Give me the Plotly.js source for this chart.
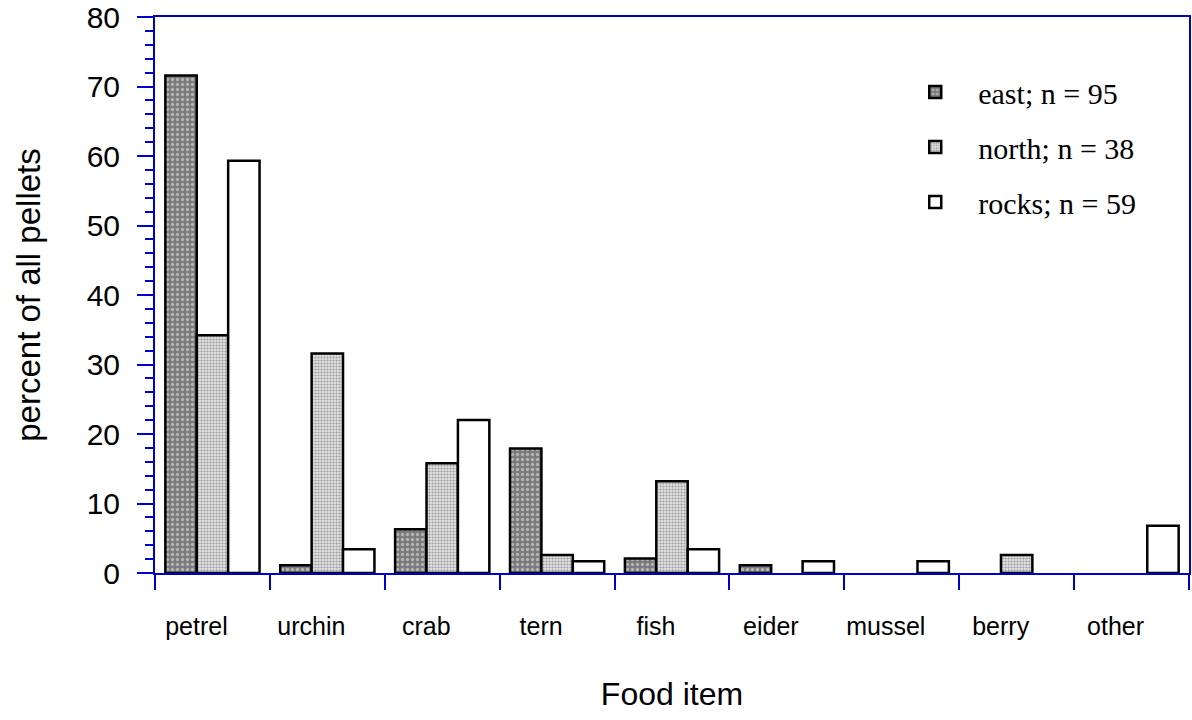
<!DOCTYPE html>
<html>
<head>
<meta charset="utf-8">
<script src="https://cdn.plot.ly/plotly-3.0.1.min.js"></script>
<style>html,body{margin:0;padding:0;background:#fff;}#chart{width:1192px;height:720px;}</style>
</head>
<body>
<div id="chart"></div>
<script>
const categories = ["petrel", "urchin", "crab", "tern", "fish", "eider", "mussel", "berry", "other"];
const eastValues  = [71.6, 1.1, 6.3, 17.9, 2.1, 1.1, null, null, null];
const northValues = [34.2, 31.6, 15.8, 2.6, 13.2, null, null, 2.6, null];
const rocksValues = [59.3, 3.4, 22.0, 1.7, 3.4, 1.7, 1.7, null, 6.8];
const seriesNames = ["east; n = 95", "north; n = 38", "rocks; n = 59"];
const yTicks = [0, 10, 20, 30, 40, 50, 60, 70, 80];

const blue = "#0000cc";
const outline = {color: "#000000", width: 2.5};

const traces = [
  {type: "bar", name: seriesNames[0], x: categories, y: eastValues, legendgroup: "a",
   marker: {color: "#808080", line: outline,
            pattern: {shape: ".", bgcolor: "#7a7a7a", fgcolor: "#b4b4b4", size: 5, solidity: 0.35}}},
  {type: "bar", name: seriesNames[1], x: categories, y: northValues, legendgroup: "b",
   marker: {color: "#d0d0d0", line: outline,
            pattern: {shape: ".", bgcolor: "#e2e2e2", fgcolor: "#9a9a9a", size: 3, solidity: 0.4}}},
  {type: "bar", name: seriesNames[2], x: categories, y: rocksValues, legendgroup: "c",
   marker: {color: "#ffffff", line: outline}}
];

const layout = {
  width: 1192, height: 720,
  paper_bgcolor: "#ffffff", plot_bgcolor: "#ffffff",
  margin: {l: 155, r: 3, t: 17, b: 147},
  barmode: "group", bargap: 0.18, bargroupgap: 0,
  font: {family: "Liberation Sans, Arial, sans-serif", color: "#000"},
  xaxis: {
    type: "category", tickson: "boundaries", ticks: "outside", ticklen: 15, tickwidth: 2, tickcolor: blue,
    showline: true, linecolor: blue, linewidth: 2, mirror: true, showgrid: false, zeroline: false,
    tickfont: {size: 25}, ticklabelstandoff: 30, ticklabelshift: -16,
    title: {text: "Food item", font: {size: 32}, standoff: 44},
    automargin: false, fixedrange: true
  },
  yaxis: {
    range: [0, 80], tickvals: yTicks, ticks: "outside", ticklen: 16, tickwidth: 2, tickcolor: blue,
    minor: {dtick: 2, ticks: "outside", ticklen: 8, tickwidth: 2, tickcolor: blue},
    showline: true, linecolor: blue, linewidth: 2, mirror: true, showgrid: false, zeroline: false,
    tickfont: {size: 30}, ticklabelstandoff: 11, ticklabeloverflow: "allow",
    title: {text: "percent of all pellets", font: {size: 33}, standoff: 36},
    automargin: false, fixedrange: true
  },
  legend: {
    x: 0.713, y: 0.912, xanchor: "left", yanchor: "top",
    bgcolor: "rgba(0,0,0,0)", borderwidth: 0,
    font: {family: "Liberation Serif, Times New Roman, serif", size: 30},
    traceorder: "grouped", tracegroupgap: 13, itemwidth: 76
  },
  showlegend: true
};

Plotly.newPlot("chart", traces, layout, {displayModeBar: false, staticPlot: true});
</script>
</body>
</html>
